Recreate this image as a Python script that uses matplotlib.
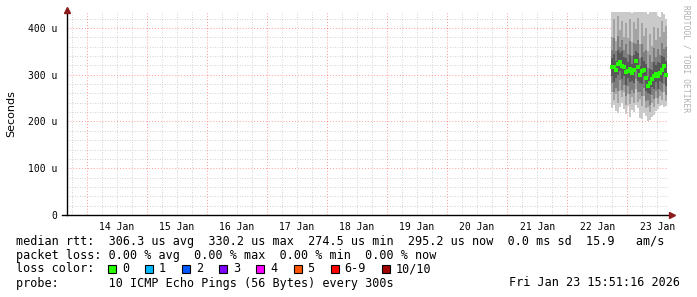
import datetime as dt
import matplotlib
matplotlib.use("Agg")
import matplotlib.pyplot as plt
import matplotlib.dates as mdates
from matplotlib.ticker import MultipleLocator, FuncFormatter
from matplotlib.patches import Rectangle


# =========================
# DATA (values in microseconds)
# =========================
start = dt.datetime(2026, 1, 22, 17, 36)
step_min = 48

median = [317, 316, 310, 322, 328, 319, 317, 306, 308, 312, 303, 311, 330, 316,
          299, 307, 311, 292, 275, 282, 290, 297, 301, 297, 304, 310, 318, 300]

# 10 sorted pings per step
pings = [
    [228, 262, 282, 298, 313, 321, 336, 352, 380, 436],
    [235, 245, 262, 285, 312, 320, 345, 378, 420, 440],
    [222, 258, 272, 292, 306, 314, 330, 350, 372, 438],
    [218, 240, 265, 300, 318, 326, 352, 382, 425, 440],
    [230, 266, 288, 308, 324, 332, 346, 360, 395, 442],
    [240, 252, 268, 290, 315, 323, 350, 375, 415, 436],
    [226, 262, 278, 298, 313, 321, 338, 352, 380, 440],
    [215, 236, 255, 278, 302, 310, 336, 365, 410, 436],
    [232, 258, 275, 292, 304, 312, 328, 345, 378, 438],
    [210, 238, 258, 284, 308, 316, 342, 372, 418, 440],
    [225, 252, 268, 286, 299, 307, 322, 340, 370, 432],
    [220, 240, 260, 282, 307, 315, 342, 368, 412, 438],
    [236, 270, 290, 310, 326, 334, 350, 365, 398, 442],
    [228, 242, 262, 286, 312, 320, 346, 375, 422, 440],
    [208, 248, 262, 282, 295, 303, 318, 336, 365, 436],
    [205, 232, 255, 280, 303, 311, 338, 366, 410, 440],
    [218, 255, 272, 294, 307, 315, 330, 348, 382, 438],
    [212, 228, 244, 265, 288, 296, 322, 352, 400, 436],
    [200, 230, 246, 260, 271, 279, 296, 315, 350, 430],
    [203, 220, 236, 258, 278, 286, 312, 342, 388, 434],
    [210, 240, 256, 274, 286, 294, 310, 328, 362, 438],
    [214, 230, 248, 270, 293, 301, 328, 356, 402, 436],
    [222, 250, 265, 284, 297, 305, 320, 338, 375, 440],
    [226, 238, 250, 270, 293, 301, 328, 355, 400, 426],
    [232, 255, 268, 286, 300, 308, 324, 342, 380, 424],
    [236, 246, 262, 282, 306, 314, 340, 368, 415, 436],
    [230, 262, 280, 300, 314, 322, 338, 355, 392, 430],
    [234, 244, 256, 276, 296, 304, 330, 360, 405, 420],
]

loss_labels = ["0", "1", "2", "3", "4", "5", "6-9", "10/10"]
loss_colors = ["#26ff00", "#00b8ff", "#0059ff", "#7e00ff",
               "#ff00ff", "#ff5500", "#ff0000", "#a10000"]

smoke_colors = ["#cacaca", "#a4a4a4", "#7e7e7e", "#585858", "#323232"]

legend_rtt = "median rtt:  306.3 us avg  330.2 us max  274.5 us min  295.2 us now  0.0 ms sd  15.9   am/s"
legend_loss = "packet loss: 0.00 % avg  0.00 % max  0.00 % min  0.00 % now"
probe_text = "probe:       10 ICMP Echo Pings (56 Bytes) every 300s"
stamp_text = "Fri Jan 23 15:51:16 2026"

x_start = dt.datetime(2026, 1, 13, 16, 0)
x_end = dt.datetime(2026, 1, 23, 16, 20)
y_max = 434


# =========================
# FIGURE
# =========================
W, H = 697, 297
MONO = "DejaVu Sans Mono"
fig = plt.figure(figsize=(W / 100, H / 100), dpi=100)
fig.patch.set_facecolor("white")
ax = fig.add_axes([67 / W, 82 / H, 601 / W, 203 / H])

times = [start + dt.timedelta(minutes=step_min * i) for i in range(len(median))]
centers = [t + dt.timedelta(minutes=step_min / 2) for t in times]
width = step_min / 1440

# smoke bands
for k in range(5):
    lows = [p[k] for p in pings]
    highs = [p[9 - k] for p in pings]
    ax.bar(times, [h - l for h, l in zip(highs, lows)], bottom=lows,
           width=width, align="edge", color=smoke_colors[k], linewidth=0, zorder=3)

# median
ax.plot(centers, median, linestyle="none", marker="s", markersize=2.5,
        markeredgewidth=0, color=loss_colors[0], zorder=4)

ax.set_xlim(x_start, x_end)
ax.set_ylim(0, y_max)

# y axis
ax.yaxis.set_major_locator(MultipleLocator(100))
ax.yaxis.set_minor_locator(MultipleLocator(20))
ax.yaxis.set_major_formatter(FuncFormatter(lambda v, p: "0" if v == 0 else f"{int(v)} u"))
ax.grid(which="major", axis="y", color="#ff0000", alpha=0.4, linestyle=(0, (1, 2)), linewidth=0.7)
ax.grid(which="minor", axis="y", color="#c4c4c4", linestyle=(0, (1, 2)), linewidth=0.6)

# x axis: grid every 6h, red line at midnight, labels at noon
ax.xaxis.set_major_locator(mdates.HourLocator(byhour=[12]))
ax.xaxis.set_major_formatter(mdates.DateFormatter("%d Jan"))
ax.xaxis.set_minor_locator(mdates.HourLocator(byhour=[6, 18]))
ax.grid(which="both", axis="x", color="#c4c4c4", linestyle=(0, (1, 2)), linewidth=0.6)

day = dt.datetime(x_start.year, x_start.month, x_start.day) + dt.timedelta(days=1)
while day < x_end:
    ax.axvline(day, color="#ff0000", alpha=0.4, linestyle=(0, (1, 2)), linewidth=0.7, zorder=2)
    day += dt.timedelta(days=1)

ax.tick_params(which="both", length=0)
ax.tick_params(axis="y", labelsize=7, pad=7)
ax.tick_params(axis="x", labelsize=7, pad=5)
for lab in ax.get_yticklabels() + ax.get_xticklabels():
    lab.set_family(MONO)
ax.set_axisbelow(True)

for s in ["top", "right", "left", "bottom"]:
    ax.spines[s].set_visible(False)

# axes with arrows
ax.plot([-0.008, 1.003], [0, 0], transform=ax.transAxes, color="black", lw=1, clip_on=False, zorder=5)
ax.plot([0, 0], [0, 1.005], transform=ax.transAxes, color="black", lw=1, clip_on=False, zorder=5)
ax.plot([1.006], [0], transform=ax.transAxes, marker=">", markersize=4, color="#8b1a1a",
        clip_on=False, zorder=6)
ax.plot([0], [1.012], transform=ax.transAxes, marker="^", markersize=4, color="#8b1a1a",
        clip_on=False, zorder=6)

ax.set_ylabel("Seconds", fontsize=8)
ax.yaxis.set_label_coords(-51 / 601, 0.5)


# =========================
# LEGEND TEXT
# =========================
def fx(px):
    return px / W


def fy(py):
    return 1 - py / H


fs = 8.5
fig.text(fx(16), fy(241), legend_rtt, family=MONO, fontsize=fs, va="center")
fig.text(fx(16), fy(255), legend_loss, family=MONO, fontsize=fs, va="center")
fig.text(fx(16), fy(269), "loss color:", family=MONO, fontsize=fs, va="center")
xpos = 108
for lab, col in zip(loss_labels, loss_colors):
    fig.patches.append(Rectangle((fx(xpos), fy(273)), 8 / W, 8 / H, transform=fig.transFigure,
                                 facecolor=col, edgecolor="black", linewidth=0.8))
    fig.text(fx(xpos + 14), fy(269), lab, family=MONO, fontsize=fs, va="center")
    xpos += 14 + 7.1 * len(lab) + 16
fig.text(fx(16), fy(283), probe_text, family=MONO, fontsize=fs, va="center")
fig.text(fx(680), fy(283), stamp_text, family=MONO, fontsize=fs, va="center", ha="right")

fig.text(fx(686), fy(5), "RRDTOOL / TOBI OETIKER", family=MONO, fontsize=5.8,
         color="#b0b0b0", rotation=270, ha="center", va="top")

fig.savefig("out.png", dpi=100)
